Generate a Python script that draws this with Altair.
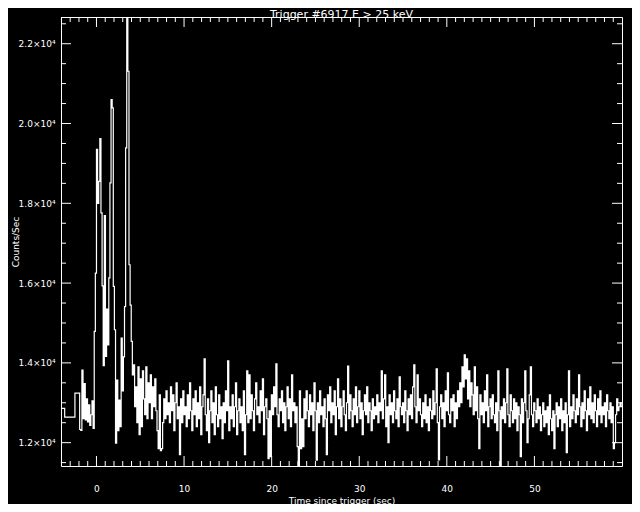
import altair as alt
import pandas as pd

TITLE = "Trigger #6917 E > 25 keV"
X_TITLE = "Time since trigger (sec)"
Y_TITLE = "Counts/Sec"

# pre-trigger coarse bins (start time, counts/sec)
coarse_start = [-4.65, -3.63, -2.46]
coarse_counts = [12860, 12640, 13240]

# fine bins after -1.92 s, 0.128 s wide
fine_start = -1.92
fine_width = 0.128
fine_counts = [
    12330, 12310, 13820, 12600, 13480, 12570, 13100, 12520,
    12950, 12430, 12700, 13050, 12360, 14790, 16250, 19350,
    18000, 18550, 19620, 17760, 15930, 13930, 17690, 14160,
    15350, 14450, 16130, 18510, 20600, 20390, 15920, 14830,
    11990, 13570, 12300, 13070, 12400, 14620, 13300, 14150,
    15410, 19390, 22670, 21310, 16460, 15450, 14540, 13700,
    13950, 12900, 13400, 12500, 13900, 12200, 13600, 12400,
    13800, 13100, 12700, 13900, 12600, 13500, 13000, 13700,
    12600, 13400, 12900, 13600, 12800, 12300, 11850, 13200,
    11800, 11850, 12500, 13100, 12600, 13300, 12700, 13000,
    12500, 13400, 12800, 13200, 12300, 13000, 13500, 12600,
    12900, 11700, 13100, 12500, 13300, 12700, 12900, 12400,
    13200, 12600, 13500, 12800, 12300, 13100, 12700, 13300,
    12400, 13000, 12600, 13400, 12200, 12900, 13200, 14100,
    12700, 12300, 13100, 12000, 12800, 13300, 12500, 13000,
    12200, 13400, 12700, 12400, 13200, 12600, 12900, 12100,
    13000, 12500, 13300, 12800, 14050, 12300, 12900, 12600,
    13200, 12400, 12900, 13500, 12200, 12800, 13100, 12500,
    12900, 12300, 13300, 11700, 12700, 13800, 12500, 13700,
    12600, 13200, 12800, 12300, 13100, 13500, 12700, 12900,
    12500, 13300, 12800, 13600, 12200, 12900, 13100, 12600,
    11600, 12800, 11650, 13200, 12700, 13400, 12900, 13975,
    12700, 12400, 13100, 12800, 13300, 12500, 13000, 12300,
    12900, 13400, 12600, 13100, 12400, 13700, 12800, 13000,
    12500, 12900, 11900, 11415, 13300, 11850, 12600, 11900,
    13100, 12600, 13300, 12800, 12400, 13200, 12700, 13000,
    12300, 13500, 12800, 11560, 13000, 12500, 13300, 12700,
    12900, 12400, 13100, 12600, 11700, 13200, 12800, 13400,
    12500, 13000, 12700, 13300, 12200, 12900, 13600, 12600,
    13100, 12400, 12900, 13300, 12700, 12300, 13000, 13920,
    12600, 13200, 12800, 12400, 13100, 12700, 13400, 12500,
    12900, 13300, 12600, 13000, 12200, 12800, 13200, 12700,
    13400, 12500, 13000, 12800, 12300, 13100, 12600, 12900,
    12700, 13200, 12500, 13000, 12800, 13800, 12600, 13100,
    13700, 12400, 12900, 12000, 13200, 12700, 13000, 12500,
    13300, 12800, 12600, 13100, 12400, 13650, 12900, 12700,
    13000, 12500, 13300, 12800, 12300, 13100, 12700, 13200,
    12600, 13400, 13950, 12900, 12500, 13700, 12800, 13100,
    12700, 12400, 13000, 12600, 13200, 12500, 12900, 12300,
    13100, 12800, 12600, 13300, 12700, 13000, 13850, 12500,
    11565, 12900, 13200, 12600, 13000, 12400, 13300, 12800,
    13750, 12700, 12500, 13100, 12800, 13200, 12400, 13000,
    12600, 13300, 12900, 13500, 13000, 13900, 13400, 14200,
    13600, 14100, 13100, 13800, 12900, 13500, 13200, 12700,
    13900, 12800, 13400, 12600, 11850, 13200, 12700, 13000,
    12500, 13300, 12800, 13700, 12400, 12900, 13100, 12600,
    13200, 12700, 12500, 13000, 12300, 13800, 12800, 11420,
    12900, 12600, 13100, 12500, 13000, 13850, 12700, 12400,
    13200, 12800, 12500, 13100, 12600, 13000, 12300, 12900,
    12700, 11650, 13100, 12500, 13000, 13800, 12800, 12000,
    12600, 13200, 13900, 12700, 12400, 13000, 12800, 12500,
    13100, 12600, 12900, 12300, 12700, 13000, 12400, 12800,
    12500, 12900, 12200, 13200, 12600, 12300, 12800, 11850,
    12700, 13000, 12400, 12900, 12600, 13100, 12300, 12800,
    12500, 13000, 11750, 12700, 13800, 12400, 12900, 12600,
    13200, 12800, 12500, 13100, 12700, 13700, 12900, 12400,
    13000, 12600, 13300, 12800, 12300, 13100, 12700, 13400,
    12600, 13000, 12500, 13200, 12800, 12400, 13100, 12700,
    13300, 12500, 12900, 12700, 13000, 12400, 13200, 12800,
    12600, 13000, 12500, 12900, 11850, 12000, 12700, 13100,
    12800, 12900, 13000, 12900,
]

x_domain = [-4.05, 60.0]
y_domain = [11415, 22670]
x_major = [0, 10, 20, 30, 40, 50]
x_minor = [v for v in range(-4, 60) if v % 10 != 0]
y_major = [12000, 14000, 16000, 18000, 20000, 22000]
y_minor = [11500, 12500, 13000, 13500, 14500, 15000, 15500, 16500, 17000,
           17500, 18500, 19000, 19500, 20500, 21000, 21500, 22500]

times = coarse_start + [fine_start + i * fine_width for i in range(len(fine_counts))]
counts = coarse_counts + fine_counts
times.append(fine_start + len(fine_counts) * fine_width)
counts.append(fine_counts[-1])
df = pd.DataFrame({"t": times, "c": counts})

W, H = 561, 449
FONT = "DejaVu Sans"
xs = alt.Scale(domain=x_domain, nice=False, zero=False)
ys = alt.Scale(domain=y_domain, nice=False, zero=False)

x_axis = alt.Axis(
    values=x_major, format="d", title=X_TITLE, labelPadding=22,
    labelBaseline="middle", titleX=W / 2, titleY=34, titleBaseline="middle",
    labelFontSize=9, titleFontSize=9)
y_axis = alt.Axis(
    values=y_major, title=Y_TITLE, labelPadding=6,
    labelExpr="format(datum.value / 10000, '.1f') + '\u00d710\u2074'",
    titleX=-46, titleY=H / 2, titleAngle=270, titleAlign="center",
    titleBaseline="middle", labelFontSize=9, titleFontSize=9)

X = alt.X("t:Q", scale=xs, axis=x_axis, title=X_TITLE)
Y = alt.Y("c:Q", scale=ys, axis=y_axis, title=Y_TITLE)

line = alt.Chart(df).mark_line(
    interpolate="step-after", color="white", strokeWidth=1.2, clip=True
).encode(x=X, y=Y)

def xticks(vals, length):
    d = pd.DataFrame({"t": vals})
    bot = alt.Chart(d).mark_rule(color="white", strokeWidth=1).encode(
        x=X, y=alt.value(H), y2=alt.value(H - length))
    top = alt.Chart(d).mark_rule(color="white", strokeWidth=1).encode(
        x=X, y=alt.value(0), y2=alt.value(length))
    return [bot, top]

def yticks(vals, length):
    d = pd.DataFrame({"c": vals})
    left = alt.Chart(d).mark_rule(color="white", strokeWidth=1).encode(
        y=Y, x=alt.value(0), x2=alt.value(length))
    right = alt.Chart(d).mark_rule(color="white", strokeWidth=1).encode(
        y=Y, x=alt.value(W), x2=alt.value(W - length))
    return [left, right]

title = alt.Chart(pd.DataFrame({"s": [TITLE]})).mark_text(
    color="white", font=FONT, fontSize=11, baseline="alphabetic", align="center"
).encode(text="s:N", x=alt.value(W / 2), y=alt.value(0.5))

layers = [line] + xticks(x_major, 10) + xticks(x_minor, 5) + yticks(y_major, 10) + yticks(y_minor, 5) + [title]

chart = alt.layer(*layers).properties(
    width=W, height=H,
    autosize=alt.AutoSizeParams(type="none"),
    padding={"left": 53, "top": 9, "right": 10, "bottom": 38},
    background="black",
).configure_view(
    stroke="white", strokeWidth=1
).configure_axis(
    domain=False, ticks=False, tickSize=0, grid=False,
    labelColor="white", titleColor="white", labelFont=FONT, titleFont=FONT,
    titleFontWeight="normal",
)

chart.save("out.html", embed_options={"renderer": "svg", "actions": False})
